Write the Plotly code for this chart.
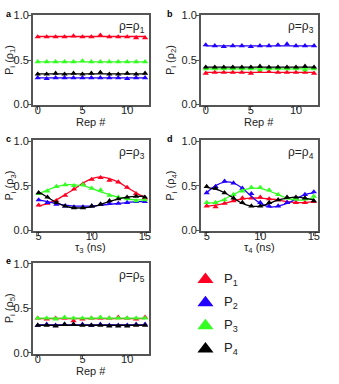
import plotly.graph_objects as go

W, H = 339, 384

colors = {"P1": "#ff0022", "P2": "#2200ff", "P3": "#33ff22", "P4": "#000000"}
names = ["P1", "P2", "P3", "P4"]

rep = list(range(13))
tau = [5, 5.83, 6.67, 7.5, 8.33, 9.17, 10, 10.83, 11.67, 12.5, 13.33, 14.17, 15]

# panel a (rho_1)
a_p1 = [0.76, 0.76, 0.76, 0.76, 0.77, 0.76, 0.76, 0.78, 0.76, 0.76, 0.76, 0.75, 0.75]
a_p2 = [0.30, 0.29, 0.30, 0.30, 0.30, 0.30, 0.30, 0.30, 0.30, 0.30, 0.29, 0.30, 0.30]
a_p3 = [0.48, 0.48, 0.48, 0.48, 0.48, 0.49, 0.48, 0.48, 0.48, 0.48, 0.48, 0.48, 0.48]
a_p4 = [0.34, 0.34, 0.35, 0.34, 0.35, 0.34, 0.35, 0.36, 0.34, 0.34, 0.35, 0.34, 0.35]
a_fit = [0.765, 0.30, 0.48, 0.345]

# panel b (rho_2)
b_p1 = [0.35, 0.36, 0.36, 0.36, 0.36, 0.35, 0.37, 0.37, 0.36, 0.36, 0.36, 0.36, 0.35]
b_p2 = [0.67, 0.66, 0.65, 0.66, 0.66, 0.65, 0.66, 0.66, 0.67, 0.68, 0.66, 0.66, 0.66]
b_p3 = [0.40, 0.40, 0.40, 0.40, 0.40, 0.40, 0.39, 0.40, 0.40, 0.40, 0.40, 0.39, 0.40]
b_p4 = [0.42, 0.42, 0.42, 0.42, 0.42, 0.42, 0.43, 0.42, 0.42, 0.42, 0.42, 0.43, 0.42]
b_fit = [0.36, 0.66, 0.40, 0.42]

# panel c (rho_3 vs tau_3)
c_p1 = [0.28, 0.30, 0.33, 0.39, 0.46, 0.52, 0.57, 0.59, 0.56, 0.54, 0.48, 0.41, 0.36]
c_p2 = [0.34, 0.31, 0.29, 0.27, 0.26, 0.26, 0.27, 0.29, 0.30, 0.30, 0.31, 0.32, 0.32]
c_p3 = [0.41, 0.44, 0.49, 0.51, 0.50, 0.51, 0.47, 0.45, 0.39, 0.37, 0.35, 0.33, 0.34]
c_p4 = [0.42, 0.37, 0.31, 0.27, 0.25, 0.25, 0.27, 0.29, 0.33, 0.35, 0.37, 0.38, 0.37]
c_f1 = [0.27, 0.30, 0.34, 0.40, 0.46, 0.53, 0.58, 0.60, 0.58, 0.54, 0.48, 0.42, 0.37]
c_f2 = [0.34, 0.32, 0.30, 0.28, 0.27, 0.27, 0.27, 0.28, 0.29, 0.30, 0.31, 0.32, 0.32]
c_f3 = [0.41, 0.45, 0.49, 0.51, 0.51, 0.50, 0.47, 0.43, 0.40, 0.37, 0.35, 0.34, 0.34]
c_f4 = [0.43, 0.37, 0.31, 0.27, 0.25, 0.25, 0.26, 0.29, 0.32, 0.35, 0.37, 0.38, 0.38]

# panel d (rho_4 vs tau_4)
d_p1 = [0.27, 0.26, 0.30, 0.33, 0.36, 0.36, 0.37, 0.35, 0.34, 0.31, 0.31, 0.31, 0.32]
d_p2 = [0.42, 0.49, 0.55, 0.53, 0.47, 0.41, 0.31, 0.27, 0.27, 0.31, 0.35, 0.40, 0.43]
d_p3 = [0.31, 0.31, 0.34, 0.40, 0.44, 0.48, 0.48, 0.45, 0.40, 0.36, 0.35, 0.35, 0.38]
d_p4 = [0.49, 0.47, 0.42, 0.36, 0.31, 0.27, 0.27, 0.31, 0.34, 0.37, 0.37, 0.36, 0.33]
d_f1 = [0.27, 0.28, 0.30, 0.33, 0.35, 0.36, 0.36, 0.35, 0.34, 0.32, 0.31, 0.31, 0.32]
d_f2 = [0.42, 0.50, 0.54, 0.53, 0.47, 0.38, 0.30, 0.26, 0.27, 0.30, 0.35, 0.40, 0.42]
d_f3 = [0.31, 0.31, 0.35, 0.40, 0.45, 0.47, 0.47, 0.44, 0.40, 0.36, 0.34, 0.34, 0.36]
d_f4 = [0.48, 0.46, 0.42, 0.36, 0.30, 0.27, 0.27, 0.30, 0.34, 0.36, 0.37, 0.36, 0.34]

# panel e (rho_5)
e_p1 = [0.39, 0.38, 0.39, 0.39, 0.36, 0.38, 0.39, 0.39, 0.39, 0.40, 0.39, 0.38, 0.40]
e_p2 = [0.31, 0.32, 0.31, 0.32, 0.32, 0.32, 0.31, 0.32, 0.31, 0.31, 0.31, 0.32, 0.32]
e_p3 = [0.39, 0.39, 0.38, 0.40, 0.39, 0.39, 0.39, 0.40, 0.39, 0.39, 0.39, 0.39, 0.39]
e_p4 = [0.31, 0.31, 0.30, 0.32, 0.32, 0.31, 0.31, 0.31, 0.30, 0.30, 0.30, 0.31, 0.31]
e_fit = [0.385, 0.315, 0.39, 0.31]

legend_labels = ["P<sub>1</sub>", "P<sub>2</sub>", "P<sub>3</sub>", "P<sub>4</sub>"]

FONT = "Liberation Sans, Arial, sans-serif"

# pixel boxes: (left, right, top, bottom)
boxes = {
    1: (33, 150, 10, 103),
    2: (202, 320, 10, 103),
    3: (33, 150, 139, 232),
    4: (202, 320, 139, 232),
    5: (33, 150, 265, 358),
    6: (195, 300, 270, 365),
}

fig = go.Figure()


def axname(i, letter):
    return letter if i == 1 else f"{letter}{i}"


def add_panel(i, xs, pts, fits, smooth):
    for n, y, f in zip(names, pts, fits):
        if smooth:
            fig.add_trace(go.Scatter(x=xs, y=f, mode="lines", line=dict(color=colors[n], width=1.3, shape="spline"),
                                     xaxis=axname(i, "x"), yaxis=axname(i, "y"), showlegend=False))
        else:
            fig.add_trace(go.Scatter(x=[xs[0], xs[-1]], y=[f, f], mode="lines", line=dict(color=colors[n], width=1.3),
                                     xaxis=axname(i, "x"), yaxis=axname(i, "y"), showlegend=False))
        fig.add_trace(go.Scatter(x=xs, y=y, mode="markers", marker=dict(symbol="triangle-up", size=5.5, color=colors[n]),
                                 xaxis=axname(i, "x"), yaxis=axname(i, "y"), showlegend=False))


add_panel(1, rep, [a_p1, a_p2, a_p3, a_p4], a_fit, False)
add_panel(2, rep, [b_p1, b_p2, b_p3, b_p4], b_fit, False)
add_panel(3, tau, [c_p1, c_p2, c_p3, c_p4], [c_f1, c_f2, c_f3, c_f4], True)
add_panel(4, tau, [d_p1, d_p2, d_p3, d_p4], [d_f1, d_f2, d_f3, d_f4], True)
add_panel(5, rep, [e_p1, e_p2, e_p3, e_p4], e_fit, False)

# legend drawn on a hidden axis
fig.add_trace(go.Scatter(x=[0] * 4, y=[4, 3, 2, 1], mode="markers",
                         marker=dict(symbol="triangle-up", size=14, color=[colors[n] for n in names]),
                         xaxis="x6", yaxis="y6", showlegend=False))
fig.add_trace(go.Scatter(x=[0.8] * 4, y=[4, 3, 2, 1], mode="text", text=legend_labels, textposition="middle right",
                         textfont=dict(size=13, color="#222", family=FONT),
                         xaxis="x6", yaxis="y6", showlegend=False))

layout = dict(width=W, height=H, margin=dict(l=0, r=0, t=0, b=0), paper_bgcolor="white", plot_bgcolor="white",
              font=dict(family=FONT, size=11, color="#222"))

ytitles = {1: "P<sub>i</sub> (ρ<sub>1</sub>)", 2: "P<sub>i</sub> (ρ<sub>2</sub>)", 3: "P<sub>i</sub> (ρ<sub>3</sub>)",
           4: "P<sub>i</sub> (ρ<sub>4</sub>)", 5: "P<sub>i</sub> (ρ<sub>5</sub>)"}
xtitles = {1: "Rep #", 2: "Rep #", 3: "τ<sub>3</sub> (ns)", 4: "τ<sub>4</sub> (ns)", 5: "Rep #"}

for i, (l, r, t, b) in boxes.items():
    xd = [l / W, r / W]
    yd = [1 - b / H, 1 - t / H]
    xk = "xaxis" if i == 1 else f"xaxis{i}"
    yk = "yaxis" if i == 1 else f"yaxis{i}"
    if i == 6:
        layout[xk] = dict(domain=xd, range=[-0.5, 4], visible=False, anchor="y6")
        layout[yk] = dict(domain=yd, range=[0.5, 4.5], visible=False, anchor="x6")
        continue
    common = dict(showline=True, linecolor="#555", linewidth=1.5, mirror=True, ticks="outside", ticklen=3,
                  tickcolor="#555", tickwidth=1, showgrid=False, zeroline=False,
                  tickfont=dict(size=11, color="#222"))
    if i in (3, 4):
        xr = [4.45, 15.4]
    else:
        xr = [-0.55, 12.45]
    layout[xk] = dict(domain=xd, range=xr, tickvals=[0, 5, 10] if i not in (3, 4) else [5, 10, 15],
                      ticklabelstandoff=-9, anchor=axname(i, "y"), **common)
    layout[yk] = dict(domain=yd, range=[-0.01, 1.01], tickvals=[0, 0.5, 1.0], ticktext=["0.0", "0.5", "1.0"],
                      ticklabelstandoff=-3, anchor=axname(i, "x"), **common)

fig.update_layout(**layout)

# axis titles as annotations so they sit tight to the tick labels
for i in range(1, 6):
    l, r, t, b = boxes[i]
    tx = 10 if l < 100 else 172
    fig.add_annotation(text=ytitles[i], x=tx / W, y=1 - (t + b) / 2 / H, xref="paper", yref="paper",
                       textangle=-90, showarrow=False, xanchor="center", yanchor="middle",
                       font=dict(size=11, color="#222"))
    ty = b + 18 if i == 5 else b + 17
    fig.add_annotation(text=xtitles[i], x=(l + r) / 2 / W, y=1 - ty / H, xref="paper", yref="paper",
                       showarrow=False, xanchor="center", yanchor="middle", font=dict(size=11, color="#222"))

letters = {"a": (4, 9), "b": (166, 9), "c": (4, 138), "d": (166, 138), "e": (4, 263)}
for k, (px, py) in letters.items():
    fig.add_annotation(text=f"<b>{k}</b>", x=px / W, y=1 - py / H, xref="paper", yref="paper",
                       showarrow=False, xanchor="left", yanchor="middle", font=dict(size=9, color="#000"))

rhos = {1: "ρ=ρ<sub>1</sub>", 2: "ρ=ρ<sub>3</sub>", 3: "ρ=ρ<sub>3</sub>", 4: "ρ=ρ<sub>4</sub>", 5: "ρ=ρ<sub>5</sub>"}
for i, txt in rhos.items():
    l, r, t, b = boxes[i]
    fig.add_annotation(text=txt, x=(r - 2) / W, y=1 - (t + 13) / H, xref="paper", yref="paper",
                       showarrow=False, xanchor="right", yanchor="middle", font=dict(size=12, color="#222"))

# drop the default page margin so the figure sits at the window's corner
fig.write_html("out.html", config={"displayModeBar": False},
               post_script="document.body.style.margin='0';document.body.style.overflow='hidden';")
